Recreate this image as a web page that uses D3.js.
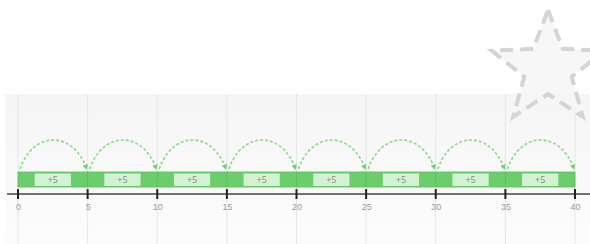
<!DOCTYPE html>
<html>
<head>
<meta charset="utf-8">
<script src="https://cdn.jsdelivr.net/npm/d3@7"></script>
<style>
  body { margin: 0; background: #fff; }
  svg { display: block; font-family: "Open Sans", "DejaVu Sans", sans-serif; }
</style>
</head>
<body>
<script>
// jumps along the number line
const jumpStarts = [0, 5, 10, 15, 20, 25, 30, 35];
const jumpSizes = [5, 5, 5, 5, 5, 5, 5, 5];
const jumpLabels = ['+5', '+5', '+5', '+5', '+5', '+5', '+5', '+5'];
const tickValues = [0, 5, 10, 15, 20, 25, 30, 35, 40];

const width = 590;
const height = 244;

const svg = d3.select('body').append('svg')
  .attr('width', width)
  .attr('height', height);

const defs = svg.append('defs');
const grad = defs.append('linearGradient')
  .attr('id', 'panel-grad')
  .attr('x1', 0).attr('y1', 0).attr('x2', 0).attr('y2', 1);
grad.append('stop').attr('offset', '0%').attr('stop-color', '#f5f5f5');
grad.append('stop').attr('offset', '100%').attr('stop-color', '#fcfcfc');

defs.append('marker')
  .attr('id', 'arrow')
  .attr('viewBox', '0 0 10 10')
  .attr('refX', 8).attr('refY', 5)
  .attr('markerWidth', 3.5).attr('markerHeight', 3.5)
  .attr('orient', 'auto')
  .append('path')
  .attr('d', 'M0,0 L10,5 L0,10 z')
  .attr('fill', '#6fd06f');

// background panel
svg.append('rect')
  .attr('x', 5).attr('y', 94)
  .attr('width', width - 5).attr('height', height - 94)
  .attr('fill', 'url(#panel-grad)');

const x = d3.scaleLinear().domain([0, 40]).range([18, 575]);

// vertical grid lines
svg.append('g')
  .selectAll('line')
  .data(tickValues)
  .join('line')
  .attr('x1', (d) => x(d)).attr('x2', (d) => x(d))
  .attr('y1', 94).attr('y2', height)
  .attr('stroke', '#e6e6e6')
  .attr('stroke-width', 1);

// star decoration
const starCx = 548;
const starCy = 69;
const outerR = 59;
const innerR = 25;
const starPts = d3.range(10).map((i) => {
  const a = -Math.PI / 2 + i * Math.PI / 5;
  const r = i % 2 === 0 ? outerR : innerR;
  return [starCx + r * Math.cos(a), starCy + r * Math.sin(a)];
});
svg.append('path')
  .attr('d', d3.line()(starPts) + 'Z')
  .attr('fill', '#f6f6f6')
  .attr('fill-opacity', 0.85)
  .attr('stroke', '#d4d4d4')
  .attr('stroke-width', 4)
  .attr('stroke-dasharray', '13,7');

// axis
const axisY = 194;
const axis = svg.append('g')
  .attr('transform', `translate(0, ${axisY})`);
axis.append('line')
  .attr('x1', 7).attr('x2', width)
  .attr('stroke', '#444').attr('stroke-width', 1.5);
axis.call(d3.axisBottom(x).tickValues(tickValues).tickSize(0).tickPadding(10))
  .call((g) => g.select('.domain').remove())
  .call((g) => g.selectAll('text')
    .attr('fill', '#999')
    .attr('font-size', 9));
axis.selectAll('.tick-mark')
  .data(tickValues)
  .join('line')
  .attr('class', 'tick-mark')
  .attr('x1', (d) => x(d)).attr('x2', (d) => x(d))
  .attr('y1', -5).attr('y2', 5)
  .attr('stroke', '#222').attr('stroke-width', 2);

// jump bars
const barTop = 172;
const barH = 15;
const jumps = jumpStarts.map((s, i) => ({start: s, size: jumpSizes[i], label: jumpLabels[i]}));

const bars = svg.append('g').selectAll('g')
  .data(jumps)
  .join('g');

bars.append('rect')
  .attr('x', (d) => x(d.start))
  .attr('y', barTop)
  .attr('width', (d) => x(d.start + d.size) - x(d.start))
  .attr('height', barH)
  .attr('fill', '#6ccd6c')
  .attr('stroke', '#5cbc5c')
  .attr('stroke-width', 0.8);

bars.append('rect')
  .attr('x', (d) => x(d.start + d.size * 0.24))
  .attr('y', barTop + 1.5)
  .attr('width', (d) => x(d.start + d.size * 0.76) - x(d.start + d.size * 0.24))
  .attr('height', barH - 2.5)
  .attr('fill', '#d3f1d3');

bars.append('text')
  .attr('x', (d) => x(d.start + d.size / 2))
  .attr('y', barTop + barH / 2 + 3)
  .attr('text-anchor', 'middle')
  .attr('font-size', 9)
  .attr('fill', '#888')
  .text((d) => d.label);

// dashed jump arcs
bars.append('path')
  .attr('d', (d) => {
    const x0 = x(d.start) + 2;
    const x1 = x(d.start + d.size) - 1;
    const y0 = 169;
    const peak = 140;
    const c = (peak - y0 * 0.25) / 0.75;
    return `M${x0},${y0} C${x0 + (x1 - x0) * 0.2},${c} ${x0 + (x1 - x0) * 0.8},${c} ${x1},${y0}`;
  })
  .attr('fill', 'none')
  .attr('stroke', '#88d988')
  .attr('stroke-width', 1.6)
  .attr('stroke-dasharray', '3,2')
  .attr('marker-end', 'url(#arrow)');
</script>
</body>
</html>
